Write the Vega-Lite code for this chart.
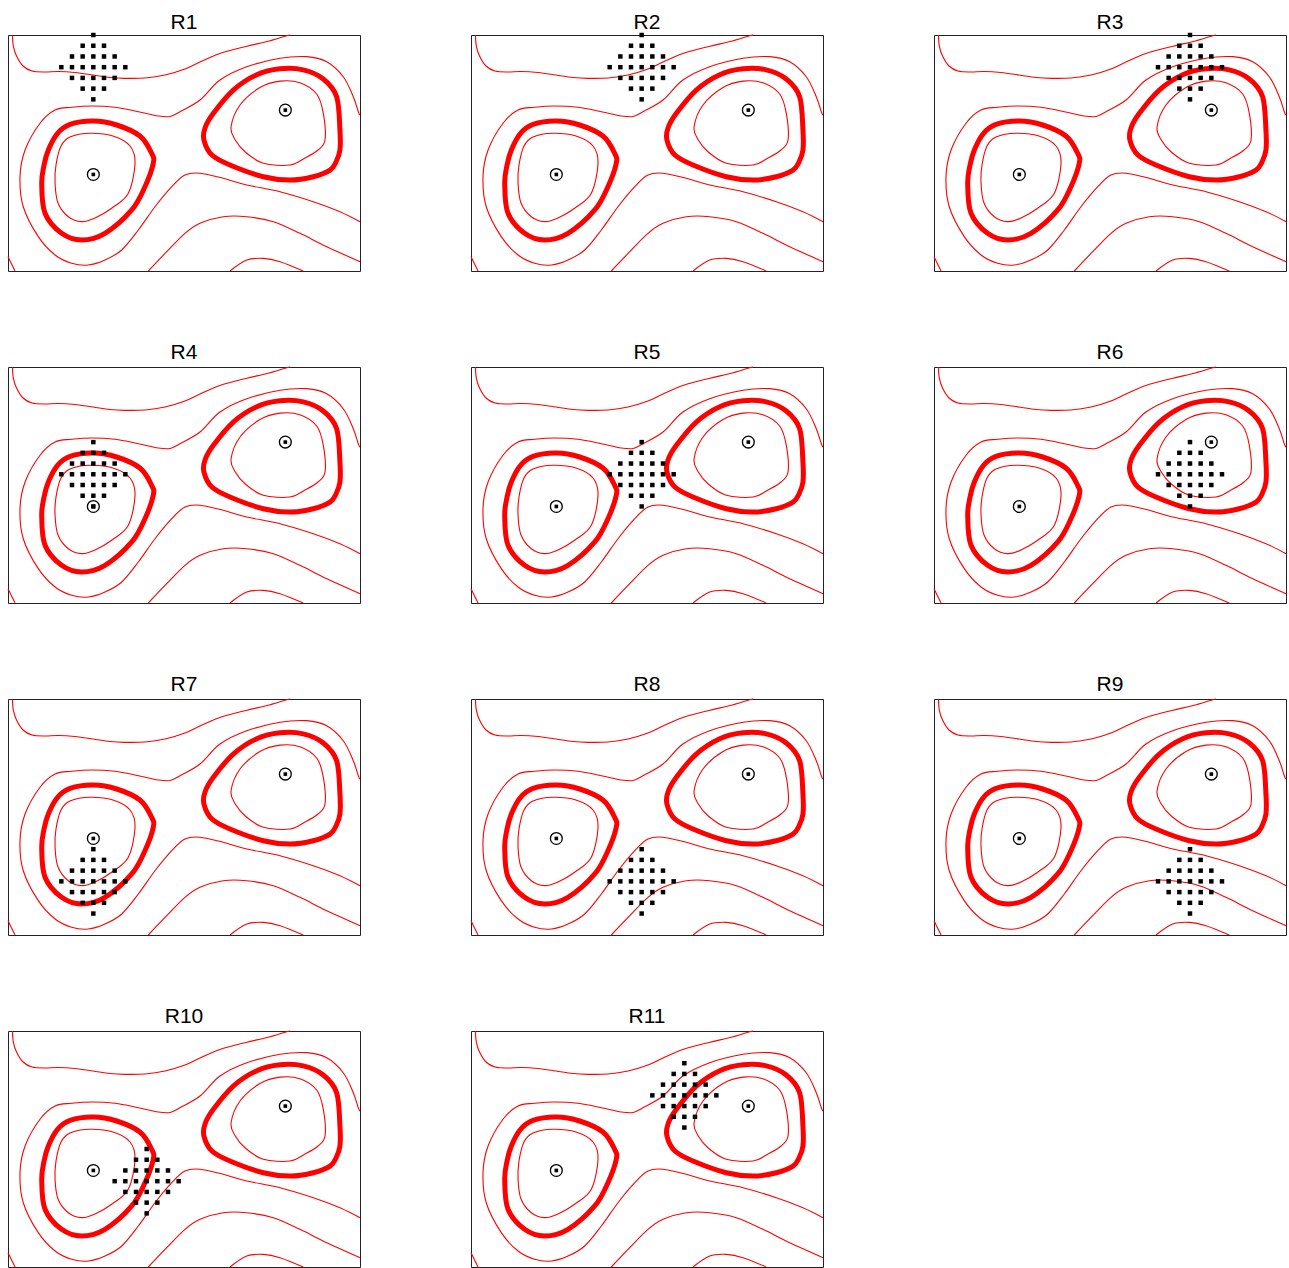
{
  "$schema": "https://vega.github.io/schema/vega-lite/v6.json",
  "background": "white",
  "padding": {"left": 5, "top": 11, "right": 0, "bottom": 0},
  "columns": 3,
  "bounds": "flush",
  "spacing": {"row": 96, "column": 111},
  "config": {
    "view": {"stroke": "#222", "strokeWidth": 1},
    "title": {"font": "Liberation Sans", "fontSize": 21, "fontWeight": "normal", "color": "#000", "offset": 1.5, "frame": "group"},
    "line": {"color": "#ff0000", "clip": true},
    "point": {"opacity": 1}
  },
  "datasets": {
    "contours": [
      {"line": "A", "seq": 0, "x": 0.42, "y": 22.0},
      {"line": "A", "seq": 1, "x": 0.50, "y": 20.97},
      {"line": "A", "seq": 2, "x": 0.80, "y": 20.04},
      {"line": "A", "seq": 3, "x": 1.41, "y": 19.11},
      {"line": "A", "seq": 4, "x": 2.25, "y": 18.64},
      {"line": "A", "seq": 5, "x": 3.47, "y": 18.55},
      {"line": "A", "seq": 6, "x": 4.69, "y": 18.6},
      {"line": "A", "seq": 7, "x": 6.28, "y": 18.5},
      {"line": "A", "seq": 8, "x": 7.97, "y": 18.27},
      {"line": "A", "seq": 9, "x": 9.56, "y": 18.04},
      {"line": "A", "seq": 10, "x": 10.97, "y": 17.96},
      {"line": "A", "seq": 11, "x": 12.84, "y": 17.99},
      {"line": "A", "seq": 12, "x": 14.72, "y": 18.27},
      {"line": "A", "seq": 13, "x": 16.59, "y": 18.83},
      {"line": "A", "seq": 14, "x": 18.0, "y": 19.48},
      {"line": "A", "seq": 15, "x": 19.87, "y": 20.28},
      {"line": "A", "seq": 16, "x": 22.31, "y": 20.93},
      {"line": "A", "seq": 17, "x": 24.28, "y": 21.39},
      {"line": "A", "seq": 18, "x": 25.9, "y": 21.86},
      {"line": "A", "seq": 19, "x": 26.44, "y": 22.0},

      {"line": "B", "seq": 0, "x": 33.0, "y": 14.54},
      {"line": "B", "seq": 1, "x": 32.84, "y": 14.85},
      {"line": "B", "seq": 2, "x": 32.37, "y": 16.25},
      {"line": "B", "seq": 3, "x": 31.43, "y": 18.11},
      {"line": "B", "seq": 4, "x": 29.88, "y": 19.51},
      {"line": "B", "seq": 5, "x": 28.0, "y": 19.98},
      {"line": "B", "seq": 6, "x": 25.5, "y": 19.83},
      {"line": "B", "seq": 7, "x": 22.38, "y": 19.04},
      {"line": "B", "seq": 8, "x": 19.87, "y": 17.8},
      {"line": "B", "seq": 9, "x": 18.0, "y": 15.94},
      {"line": "B", "seq": 10, "x": 16.12, "y": 14.85},
      {"line": "B", "seq": 11, "x": 15.2, "y": 14.4},
      {"line": "B", "seq": 12, "x": 14.09, "y": 14.45},
      {"line": "B", "seq": 13, "x": 12.22, "y": 14.85},
      {"line": "B", "seq": 14, "x": 10.03, "y": 15.26},
      {"line": "B", "seq": 15, "x": 7.85, "y": 15.38},
      {"line": "B", "seq": 16, "x": 5.97, "y": 15.26},
      {"line": "B", "seq": 17, "x": 4.41, "y": 15.01},
      {"line": "B", "seq": 18, "x": 3.0, "y": 13.77},
      {"line": "B", "seq": 19, "x": 1.6, "y": 11.28},
      {"line": "B", "seq": 20, "x": 1.125, "y": 8.79},
      {"line": "B", "seq": 21, "x": 1.43, "y": 5.99},
      {"line": "B", "seq": 22, "x": 2.84, "y": 3.2},
      {"line": "B", "seq": 23, "x": 4.41, "y": 1.49},
      {"line": "B", "seq": 24, "x": 5.97, "y": 0.72},
      {"line": "B", "seq": 25, "x": 7.53, "y": 0.56},
      {"line": "B", "seq": 26, "x": 9.09, "y": 1.02},
      {"line": "B", "seq": 27, "x": 10.66, "y": 1.96},
      {"line": "B", "seq": 28, "x": 12.22, "y": 3.82},
      {"line": "B", "seq": 29, "x": 13.78, "y": 5.99},
      {"line": "B", "seq": 30, "x": 15.35, "y": 7.86},
      {"line": "B", "seq": 31, "x": 16.59, "y": 8.95},
      {"line": "B", "seq": 32, "x": 18.0, "y": 9.11},
      {"line": "B", "seq": 33, "x": 20.18, "y": 8.64},
      {"line": "B", "seq": 34, "x": 22.38, "y": 8.02},
      {"line": "B", "seq": 35, "x": 25.5, "y": 7.39},
      {"line": "B", "seq": 36, "x": 28.62, "y": 6.46},
      {"line": "B", "seq": 37, "x": 31.12, "y": 5.53},
      {"line": "B", "seq": 38, "x": 33.0, "y": 4.6},

      {"line": "C", "seq": 0, "x": 13.15, "y": 0.0},
      {"line": "C", "seq": 1, "x": 14.88, "y": 1.8},
      {"line": "C", "seq": 2, "x": 16.59, "y": 3.51},
      {"line": "C", "seq": 3, "x": 18.0, "y": 4.45},
      {"line": "C", "seq": 4, "x": 20.18, "y": 5.06},
      {"line": "C", "seq": 5, "x": 22.38, "y": 5.06},
      {"line": "C", "seq": 6, "x": 24.87, "y": 4.6},
      {"line": "C", "seq": 7, "x": 27.37, "y": 3.51},
      {"line": "C", "seq": 8, "x": 29.88, "y": 2.26},
      {"line": "C", "seq": 9, "x": 33.0, "y": 0.87},

      {"line": "D", "seq": 0, "x": 20.81, "y": 0.0},
      {"line": "D", "seq": 1, "x": 22.38, "y": 1.02},
      {"line": "D", "seq": 2, "x": 23.93, "y": 1.18},
      {"line": "D", "seq": 3, "x": 25.5, "y": 0.87},
      {"line": "D", "seq": 4, "x": 27.68, "y": 0.0},

      {"line": "E", "seq": 0, "x": 0.0, "y": 1.33},
      {"line": "E", "seq": 1, "x": 0.66, "y": 0.0},

      {"line": "L1", "seq": 0, "x": 4.97, "y": 11.65},
      {"line": "L1", "seq": 1, "x": 5.81, "y": 12.49},
      {"line": "L1", "seq": 2, "x": 7.69, "y": 12.84},
      {"line": "L1", "seq": 3, "x": 9.84, "y": 12.58},
      {"line": "L1", "seq": 4, "x": 11.44, "y": 11.65},
      {"line": "L1", "seq": 5, "x": 11.91, "y": 10.04},
      {"line": "L1", "seq": 6, "x": 11.28, "y": 7.24},
      {"line": "L1", "seq": 7, "x": 9.75, "y": 5.87},
      {"line": "L1", "seq": 8, "x": 8.16, "y": 4.94},
      {"line": "L1", "seq": 9, "x": 6.91, "y": 4.6},
      {"line": "L1", "seq": 10, "x": 5.65, "y": 5.06},
      {"line": "L1", "seq": 11, "x": 4.69, "y": 6.34},
      {"line": "L1", "seq": 12, "x": 4.41, "y": 8.18},
      {"line": "L1", "seq": 13, "x": 4.5, "y": 9.88},

      {"line": "L2", "seq": 0, "x": 7.97, "y": 13.98},
      {"line": "L2", "seq": 1, "x": 10.19, "y": 13.61},
      {"line": "L2", "seq": 2, "x": 12.37, "y": 12.58},
      {"line": "L2", "seq": 3, "x": 13.47, "y": 10.97},
      {"line": "L2", "seq": 4, "x": 13.62, "y": 10.04},
      {"line": "L2", "seq": 5, "x": 12.84, "y": 7.86},
      {"line": "L2", "seq": 6, "x": 11.6, "y": 5.69},
      {"line": "L2", "seq": 7, "x": 9.09, "y": 3.51},
      {"line": "L2", "seq": 8, "x": 6.91, "y": 2.89},
      {"line": "L2", "seq": 9, "x": 5.03, "y": 3.51},
      {"line": "L2", "seq": 10, "x": 3.47, "y": 5.38},
      {"line": "L2", "seq": 11, "x": 3.16, "y": 8.18},
      {"line": "L2", "seq": 12, "x": 3.38, "y": 9.88},
      {"line": "L2", "seq": 13, "x": 3.78, "y": 11.28},
      {"line": "L2", "seq": 14, "x": 4.59, "y": 12.77},
      {"line": "L2", "seq": 15, "x": 5.81, "y": 13.66},

      {"line": "R1", "seq": 0, "x": 20.91, "y": 13.42},
      {"line": "R1", "seq": 1, "x": 21.75, "y": 15.47},
      {"line": "R1", "seq": 2, "x": 23.62, "y": 17.1},
      {"line": "R1", "seq": 3, "x": 25.5, "y": 17.7},
      {"line": "R1", "seq": 4, "x": 27.37, "y": 17.55},
      {"line": "R1", "seq": 5, "x": 28.94, "y": 16.5},
      {"line": "R1", "seq": 6, "x": 29.56, "y": 14.7},
      {"line": "R1", "seq": 7, "x": 29.72, "y": 12.21},
      {"line": "R1", "seq": 8, "x": 29.06, "y": 11.28},
      {"line": "R1", "seq": 9, "x": 27.84, "y": 10.53},
      {"line": "R1", "seq": 10, "x": 26.44, "y": 9.88},
      {"line": "R1", "seq": 11, "x": 23.93, "y": 10.04},
      {"line": "R1", "seq": 12, "x": 22.24, "y": 11.09},
      {"line": "R1", "seq": 13, "x": 21.31, "y": 12.21},

      {"line": "R2", "seq": 0, "x": 18.37, "y": 12.21},
      {"line": "R2", "seq": 1, "x": 18.47, "y": 13.33},
      {"line": "R2", "seq": 2, "x": 19.25, "y": 14.7},
      {"line": "R2", "seq": 3, "x": 21.12, "y": 16.87},
      {"line": "R2", "seq": 4, "x": 23.32, "y": 18.3},
      {"line": "R2", "seq": 5, "x": 25.5, "y": 18.85},
      {"line": "R2", "seq": 6, "x": 27.68, "y": 18.75},
      {"line": "R2", "seq": 7, "x": 29.56, "y": 17.9},
      {"line": "R2", "seq": 8, "x": 30.81, "y": 16.25},
      {"line": "R2", "seq": 9, "x": 31.12, "y": 13.14},
      {"line": "R2", "seq": 10, "x": 31.12, "y": 11.28},
      {"line": "R2", "seq": 11, "x": 30.75, "y": 10.16},
      {"line": "R2", "seq": 12, "x": 30.19, "y": 9.41},
      {"line": "R2", "seq": 13, "x": 28.62, "y": 8.79},
      {"line": "R2", "seq": 14, "x": 26.44, "y": 8.48},
      {"line": "R2", "seq": 15, "x": 23.93, "y": 8.79},
      {"line": "R2", "seq": 16, "x": 20.81, "y": 9.88},
      {"line": "R2", "seq": 17, "x": 19.12, "y": 10.81}
    ],
    "minima": [
      {"x": 8, "y": 9},
      {"x": 26, "y": 15}
    ],
    "samples": [
      {"panel": "R1", "x": 8, "y": 22},
      {"panel": "R1", "x": 7, "y": 21}, {"panel": "R1", "x": 8, "y": 21}, {"panel": "R1", "x": 9, "y": 21},
      {"panel": "R1", "x": 6, "y": 20}, {"panel": "R1", "x": 7, "y": 20}, {"panel": "R1", "x": 8, "y": 20}, {"panel": "R1", "x": 9, "y": 20}, {"panel": "R1", "x": 10, "y": 20},
      {"panel": "R1", "x": 5, "y": 19}, {"panel": "R1", "x": 6, "y": 19}, {"panel": "R1", "x": 7, "y": 19}, {"panel": "R1", "x": 8, "y": 19}, {"panel": "R1", "x": 9, "y": 19}, {"panel": "R1", "x": 10, "y": 19}, {"panel": "R1", "x": 11, "y": 19},
      {"panel": "R1", "x": 6, "y": 18}, {"panel": "R1", "x": 7, "y": 18}, {"panel": "R1", "x": 8, "y": 18}, {"panel": "R1", "x": 9, "y": 18}, {"panel": "R1", "x": 10, "y": 18},
      {"panel": "R1", "x": 7, "y": 17}, {"panel": "R1", "x": 8, "y": 17}, {"panel": "R1", "x": 9, "y": 17},
      {"panel": "R1", "x": 8, "y": 16},

      {"panel": "R2", "x": 16, "y": 22},
      {"panel": "R2", "x": 15, "y": 21}, {"panel": "R2", "x": 16, "y": 21}, {"panel": "R2", "x": 17, "y": 21},
      {"panel": "R2", "x": 14, "y": 20}, {"panel": "R2", "x": 15, "y": 20}, {"panel": "R2", "x": 16, "y": 20}, {"panel": "R2", "x": 17, "y": 20}, {"panel": "R2", "x": 18, "y": 20},
      {"panel": "R2", "x": 13, "y": 19}, {"panel": "R2", "x": 14, "y": 19}, {"panel": "R2", "x": 15, "y": 19}, {"panel": "R2", "x": 16, "y": 19}, {"panel": "R2", "x": 17, "y": 19}, {"panel": "R2", "x": 18, "y": 19}, {"panel": "R2", "x": 19, "y": 19},
      {"panel": "R2", "x": 14, "y": 18}, {"panel": "R2", "x": 15, "y": 18}, {"panel": "R2", "x": 16, "y": 18}, {"panel": "R2", "x": 17, "y": 18}, {"panel": "R2", "x": 18, "y": 18},
      {"panel": "R2", "x": 15, "y": 17}, {"panel": "R2", "x": 16, "y": 17}, {"panel": "R2", "x": 17, "y": 17},
      {"panel": "R2", "x": 16, "y": 16},

      {"panel": "R3", "x": 24, "y": 22},
      {"panel": "R3", "x": 23, "y": 21}, {"panel": "R3", "x": 24, "y": 21}, {"panel": "R3", "x": 25, "y": 21},
      {"panel": "R3", "x": 22, "y": 20}, {"panel": "R3", "x": 23, "y": 20}, {"panel": "R3", "x": 24, "y": 20}, {"panel": "R3", "x": 25, "y": 20}, {"panel": "R3", "x": 26, "y": 20},
      {"panel": "R3", "x": 21, "y": 19}, {"panel": "R3", "x": 22, "y": 19}, {"panel": "R3", "x": 23, "y": 19}, {"panel": "R3", "x": 24, "y": 19}, {"panel": "R3", "x": 25, "y": 19}, {"panel": "R3", "x": 26, "y": 19}, {"panel": "R3", "x": 27, "y": 19},
      {"panel": "R3", "x": 22, "y": 18}, {"panel": "R3", "x": 23, "y": 18}, {"panel": "R3", "x": 24, "y": 18}, {"panel": "R3", "x": 25, "y": 18}, {"panel": "R3", "x": 26, "y": 18},
      {"panel": "R3", "x": 23, "y": 17}, {"panel": "R3", "x": 24, "y": 17}, {"panel": "R3", "x": 25, "y": 17},
      {"panel": "R3", "x": 24, "y": 16},

      {"panel": "R4", "x": 8, "y": 15},
      {"panel": "R4", "x": 7, "y": 14}, {"panel": "R4", "x": 8, "y": 14}, {"panel": "R4", "x": 9, "y": 14},
      {"panel": "R4", "x": 6, "y": 13}, {"panel": "R4", "x": 7, "y": 13}, {"panel": "R4", "x": 8, "y": 13}, {"panel": "R4", "x": 9, "y": 13}, {"panel": "R4", "x": 10, "y": 13},
      {"panel": "R4", "x": 5, "y": 12}, {"panel": "R4", "x": 6, "y": 12}, {"panel": "R4", "x": 7, "y": 12}, {"panel": "R4", "x": 8, "y": 12}, {"panel": "R4", "x": 9, "y": 12}, {"panel": "R4", "x": 10, "y": 12}, {"panel": "R4", "x": 11, "y": 12},
      {"panel": "R4", "x": 6, "y": 11}, {"panel": "R4", "x": 7, "y": 11}, {"panel": "R4", "x": 8, "y": 11}, {"panel": "R4", "x": 9, "y": 11}, {"panel": "R4", "x": 10, "y": 11},
      {"panel": "R4", "x": 7, "y": 10}, {"panel": "R4", "x": 8, "y": 10}, {"panel": "R4", "x": 9, "y": 10},
      {"panel": "R4", "x": 8, "y": 9},

      {"panel": "R5", "x": 16, "y": 15},
      {"panel": "R5", "x": 15, "y": 14}, {"panel": "R5", "x": 16, "y": 14}, {"panel": "R5", "x": 17, "y": 14},
      {"panel": "R5", "x": 14, "y": 13}, {"panel": "R5", "x": 15, "y": 13}, {"panel": "R5", "x": 16, "y": 13}, {"panel": "R5", "x": 17, "y": 13}, {"panel": "R5", "x": 18, "y": 13},
      {"panel": "R5", "x": 13, "y": 12}, {"panel": "R5", "x": 14, "y": 12}, {"panel": "R5", "x": 15, "y": 12}, {"panel": "R5", "x": 16, "y": 12}, {"panel": "R5", "x": 17, "y": 12}, {"panel": "R5", "x": 18, "y": 12}, {"panel": "R5", "x": 19, "y": 12},
      {"panel": "R5", "x": 14, "y": 11}, {"panel": "R5", "x": 15, "y": 11}, {"panel": "R5", "x": 16, "y": 11}, {"panel": "R5", "x": 17, "y": 11}, {"panel": "R5", "x": 18, "y": 11},
      {"panel": "R5", "x": 15, "y": 10}, {"panel": "R5", "x": 16, "y": 10}, {"panel": "R5", "x": 17, "y": 10},
      {"panel": "R5", "x": 16, "y": 9},

      {"panel": "R6", "x": 24, "y": 15},
      {"panel": "R6", "x": 23, "y": 14}, {"panel": "R6", "x": 24, "y": 14}, {"panel": "R6", "x": 25, "y": 14},
      {"panel": "R6", "x": 22, "y": 13}, {"panel": "R6", "x": 23, "y": 13}, {"panel": "R6", "x": 24, "y": 13}, {"panel": "R6", "x": 25, "y": 13}, {"panel": "R6", "x": 26, "y": 13},
      {"panel": "R6", "x": 21, "y": 12}, {"panel": "R6", "x": 22, "y": 12}, {"panel": "R6", "x": 23, "y": 12}, {"panel": "R6", "x": 24, "y": 12}, {"panel": "R6", "x": 25, "y": 12}, {"panel": "R6", "x": 26, "y": 12}, {"panel": "R6", "x": 27, "y": 12},
      {"panel": "R6", "x": 22, "y": 11}, {"panel": "R6", "x": 23, "y": 11}, {"panel": "R6", "x": 24, "y": 11}, {"panel": "R6", "x": 25, "y": 11}, {"panel": "R6", "x": 26, "y": 11},
      {"panel": "R6", "x": 23, "y": 10}, {"panel": "R6", "x": 24, "y": 10}, {"panel": "R6", "x": 25, "y": 10},
      {"panel": "R6", "x": 24, "y": 9},

      {"panel": "R7", "x": 8, "y": 8},
      {"panel": "R7", "x": 7, "y": 7}, {"panel": "R7", "x": 8, "y": 7}, {"panel": "R7", "x": 9, "y": 7},
      {"panel": "R7", "x": 6, "y": 6}, {"panel": "R7", "x": 7, "y": 6}, {"panel": "R7", "x": 8, "y": 6}, {"panel": "R7", "x": 9, "y": 6}, {"panel": "R7", "x": 10, "y": 6},
      {"panel": "R7", "x": 5, "y": 5}, {"panel": "R7", "x": 6, "y": 5}, {"panel": "R7", "x": 7, "y": 5}, {"panel": "R7", "x": 8, "y": 5}, {"panel": "R7", "x": 9, "y": 5}, {"panel": "R7", "x": 10, "y": 5}, {"panel": "R7", "x": 11, "y": 5},
      {"panel": "R7", "x": 6, "y": 4}, {"panel": "R7", "x": 7, "y": 4}, {"panel": "R7", "x": 8, "y": 4}, {"panel": "R7", "x": 9, "y": 4}, {"panel": "R7", "x": 10, "y": 4},
      {"panel": "R7", "x": 7, "y": 3}, {"panel": "R7", "x": 8, "y": 3}, {"panel": "R7", "x": 9, "y": 3},
      {"panel": "R7", "x": 8, "y": 2},

      {"panel": "R8", "x": 16, "y": 8},
      {"panel": "R8", "x": 15, "y": 7}, {"panel": "R8", "x": 16, "y": 7}, {"panel": "R8", "x": 17, "y": 7},
      {"panel": "R8", "x": 14, "y": 6}, {"panel": "R8", "x": 15, "y": 6}, {"panel": "R8", "x": 16, "y": 6}, {"panel": "R8", "x": 17, "y": 6}, {"panel": "R8", "x": 18, "y": 6},
      {"panel": "R8", "x": 13, "y": 5}, {"panel": "R8", "x": 14, "y": 5}, {"panel": "R8", "x": 15, "y": 5}, {"panel": "R8", "x": 16, "y": 5}, {"panel": "R8", "x": 17, "y": 5}, {"panel": "R8", "x": 18, "y": 5}, {"panel": "R8", "x": 19, "y": 5},
      {"panel": "R8", "x": 14, "y": 4}, {"panel": "R8", "x": 15, "y": 4}, {"panel": "R8", "x": 16, "y": 4}, {"panel": "R8", "x": 17, "y": 4}, {"panel": "R8", "x": 18, "y": 4},
      {"panel": "R8", "x": 15, "y": 3}, {"panel": "R8", "x": 16, "y": 3}, {"panel": "R8", "x": 17, "y": 3},
      {"panel": "R8", "x": 16, "y": 2},

      {"panel": "R9", "x": 24, "y": 8},
      {"panel": "R9", "x": 23, "y": 7}, {"panel": "R9", "x": 24, "y": 7}, {"panel": "R9", "x": 25, "y": 7},
      {"panel": "R9", "x": 22, "y": 6}, {"panel": "R9", "x": 23, "y": 6}, {"panel": "R9", "x": 24, "y": 6}, {"panel": "R9", "x": 25, "y": 6}, {"panel": "R9", "x": 26, "y": 6},
      {"panel": "R9", "x": 21, "y": 5}, {"panel": "R9", "x": 22, "y": 5}, {"panel": "R9", "x": 23, "y": 5}, {"panel": "R9", "x": 24, "y": 5}, {"panel": "R9", "x": 25, "y": 5}, {"panel": "R9", "x": 26, "y": 5}, {"panel": "R9", "x": 27, "y": 5},
      {"panel": "R9", "x": 22, "y": 4}, {"panel": "R9", "x": 23, "y": 4}, {"panel": "R9", "x": 24, "y": 4}, {"panel": "R9", "x": 25, "y": 4}, {"panel": "R9", "x": 26, "y": 4},
      {"panel": "R9", "x": 23, "y": 3}, {"panel": "R9", "x": 24, "y": 3}, {"panel": "R9", "x": 25, "y": 3},
      {"panel": "R9", "x": 24, "y": 2},

      {"panel": "R10", "x": 13, "y": 11},
      {"panel": "R10", "x": 12, "y": 10}, {"panel": "R10", "x": 13, "y": 10}, {"panel": "R10", "x": 14, "y": 10},
      {"panel": "R10", "x": 11, "y": 9}, {"panel": "R10", "x": 12, "y": 9}, {"panel": "R10", "x": 13, "y": 9}, {"panel": "R10", "x": 14, "y": 9}, {"panel": "R10", "x": 15, "y": 9},
      {"panel": "R10", "x": 10, "y": 8}, {"panel": "R10", "x": 11, "y": 8}, {"panel": "R10", "x": 12, "y": 8}, {"panel": "R10", "x": 13, "y": 8}, {"panel": "R10", "x": 14, "y": 8}, {"panel": "R10", "x": 15, "y": 8}, {"panel": "R10", "x": 16, "y": 8},
      {"panel": "R10", "x": 11, "y": 7}, {"panel": "R10", "x": 12, "y": 7}, {"panel": "R10", "x": 13, "y": 7}, {"panel": "R10", "x": 14, "y": 7}, {"panel": "R10", "x": 15, "y": 7},
      {"panel": "R10", "x": 12, "y": 6}, {"panel": "R10", "x": 13, "y": 6}, {"panel": "R10", "x": 14, "y": 6},
      {"panel": "R10", "x": 13, "y": 5},

      {"panel": "R11", "x": 20, "y": 19},
      {"panel": "R11", "x": 19, "y": 18}, {"panel": "R11", "x": 20, "y": 18}, {"panel": "R11", "x": 21, "y": 18},
      {"panel": "R11", "x": 18, "y": 17}, {"panel": "R11", "x": 19, "y": 17}, {"panel": "R11", "x": 20, "y": 17}, {"panel": "R11", "x": 21, "y": 17}, {"panel": "R11", "x": 22, "y": 17},
      {"panel": "R11", "x": 17, "y": 16}, {"panel": "R11", "x": 18, "y": 16}, {"panel": "R11", "x": 19, "y": 16}, {"panel": "R11", "x": 20, "y": 16}, {"panel": "R11", "x": 21, "y": 16}, {"panel": "R11", "x": 22, "y": 16}, {"panel": "R11", "x": 23, "y": 16},
      {"panel": "R11", "x": 18, "y": 15}, {"panel": "R11", "x": 19, "y": 15}, {"panel": "R11", "x": 20, "y": 15}, {"panel": "R11", "x": 21, "y": 15}, {"panel": "R11", "x": 22, "y": 15},
      {"panel": "R11", "x": 19, "y": 14}, {"panel": "R11", "x": 20, "y": 14}, {"panel": "R11", "x": 21, "y": 14},
      {"panel": "R11", "x": 20, "y": 13}
    ]
  },
  "concat": [
    {"title": {"text": "R1", "offset": -0.5}, "width": 352, "height": 236,
     "encoding": {"x": {"field": "x", "type": "quantitative", "scale": {"domain": [0, 33], "nice": false, "zero": false}, "axis": null},
                  "y": {"field": "y", "type": "quantitative", "scale": {"domain": [0, 22], "nice": false, "zero": false}, "axis": null}},
     "layer": [
       {"data": {"name": "contours"}, "transform": [{"filter": {"field": "line", "oneOf": ["A", "B", "C", "D", "E"]}}], "mark": {"type": "line", "interpolate": "cardinal", "strokeWidth": 1.1}, "encoding": {"detail": {"field": "line"}, "order": {"field": "seq", "type": "quantitative"}}},
       {"data": {"name": "contours"}, "transform": [{"filter": {"field": "line", "oneOf": ["L1", "R1"]}}], "mark": {"type": "line", "interpolate": "cardinal-closed", "strokeWidth": 1.1}, "encoding": {"detail": {"field": "line"}, "order": {"field": "seq", "type": "quantitative"}}},
       {"data": {"name": "contours"}, "transform": [{"filter": {"field": "line", "oneOf": ["L2", "R2"]}}], "mark": {"type": "line", "interpolate": "cardinal-closed", "strokeWidth": 5}, "encoding": {"detail": {"field": "line"}, "order": {"field": "seq", "type": "quantitative"}}},
       {"data": {"name": "minima"}, "mark": {"type": "point", "shape": "circle", "size": 140, "filled": false, "color": "#000", "strokeWidth": 1.3}},
       {"data": {"name": "minima"}, "mark": {"type": "point", "shape": "square", "size": 13, "filled": true, "color": "#000"}},
       {"data": {"name": "samples"}, "transform": [{"filter": "datum.panel === 'R1'"}], "mark": {"type": "point", "shape": "square", "size": 20, "filled": true, "color": "#000"}}
     ]},
    {"title": {"text": "R2", "offset": -0.5}, "width": 352, "height": 236,
     "encoding": {"x": {"field": "x", "type": "quantitative", "scale": {"domain": [0, 33], "nice": false, "zero": false}, "axis": null},
                  "y": {"field": "y", "type": "quantitative", "scale": {"domain": [0, 22], "nice": false, "zero": false}, "axis": null}},
     "layer": [
       {"data": {"name": "contours"}, "transform": [{"filter": {"field": "line", "oneOf": ["A", "B", "C", "D", "E"]}}], "mark": {"type": "line", "interpolate": "cardinal", "strokeWidth": 1.1}, "encoding": {"detail": {"field": "line"}, "order": {"field": "seq", "type": "quantitative"}}},
       {"data": {"name": "contours"}, "transform": [{"filter": {"field": "line", "oneOf": ["L1", "R1"]}}], "mark": {"type": "line", "interpolate": "cardinal-closed", "strokeWidth": 1.1}, "encoding": {"detail": {"field": "line"}, "order": {"field": "seq", "type": "quantitative"}}},
       {"data": {"name": "contours"}, "transform": [{"filter": {"field": "line", "oneOf": ["L2", "R2"]}}], "mark": {"type": "line", "interpolate": "cardinal-closed", "strokeWidth": 5}, "encoding": {"detail": {"field": "line"}, "order": {"field": "seq", "type": "quantitative"}}},
       {"data": {"name": "minima"}, "mark": {"type": "point", "shape": "circle", "size": 140, "filled": false, "color": "#000", "strokeWidth": 1.3}},
       {"data": {"name": "minima"}, "mark": {"type": "point", "shape": "square", "size": 13, "filled": true, "color": "#000"}},
       {"data": {"name": "samples"}, "transform": [{"filter": "datum.panel === 'R2'"}], "mark": {"type": "point", "shape": "square", "size": 20, "filled": true, "color": "#000"}}
     ]},
    {"title": {"text": "R3", "offset": -0.5}, "width": 352, "height": 236,
     "encoding": {"x": {"field": "x", "type": "quantitative", "scale": {"domain": [0, 33], "nice": false, "zero": false}, "axis": null},
                  "y": {"field": "y", "type": "quantitative", "scale": {"domain": [0, 22], "nice": false, "zero": false}, "axis": null}},
     "layer": [
       {"data": {"name": "contours"}, "transform": [{"filter": {"field": "line", "oneOf": ["A", "B", "C", "D", "E"]}}], "mark": {"type": "line", "interpolate": "cardinal", "strokeWidth": 1.1}, "encoding": {"detail": {"field": "line"}, "order": {"field": "seq", "type": "quantitative"}}},
       {"data": {"name": "contours"}, "transform": [{"filter": {"field": "line", "oneOf": ["L1", "R1"]}}], "mark": {"type": "line", "interpolate": "cardinal-closed", "strokeWidth": 1.1}, "encoding": {"detail": {"field": "line"}, "order": {"field": "seq", "type": "quantitative"}}},
       {"data": {"name": "contours"}, "transform": [{"filter": {"field": "line", "oneOf": ["L2", "R2"]}}], "mark": {"type": "line", "interpolate": "cardinal-closed", "strokeWidth": 5}, "encoding": {"detail": {"field": "line"}, "order": {"field": "seq", "type": "quantitative"}}},
       {"data": {"name": "minima"}, "mark": {"type": "point", "shape": "circle", "size": 140, "filled": false, "color": "#000", "strokeWidth": 1.3}},
       {"data": {"name": "minima"}, "mark": {"type": "point", "shape": "square", "size": 13, "filled": true, "color": "#000"}},
       {"data": {"name": "samples"}, "transform": [{"filter": "datum.panel === 'R3'"}], "mark": {"type": "point", "shape": "square", "size": 20, "filled": true, "color": "#000"}}
     ]},
    {"title": "R4", "width": 352, "height": 236,
     "encoding": {"x": {"field": "x", "type": "quantitative", "scale": {"domain": [0, 33], "nice": false, "zero": false}, "axis": null},
                  "y": {"field": "y", "type": "quantitative", "scale": {"domain": [0, 22], "nice": false, "zero": false}, "axis": null}},
     "layer": [
       {"data": {"name": "contours"}, "transform": [{"filter": {"field": "line", "oneOf": ["A", "B", "C", "D", "E"]}}], "mark": {"type": "line", "interpolate": "cardinal", "strokeWidth": 1.1}, "encoding": {"detail": {"field": "line"}, "order": {"field": "seq", "type": "quantitative"}}},
       {"data": {"name": "contours"}, "transform": [{"filter": {"field": "line", "oneOf": ["L1", "R1"]}}], "mark": {"type": "line", "interpolate": "cardinal-closed", "strokeWidth": 1.1}, "encoding": {"detail": {"field": "line"}, "order": {"field": "seq", "type": "quantitative"}}},
       {"data": {"name": "contours"}, "transform": [{"filter": {"field": "line", "oneOf": ["L2", "R2"]}}], "mark": {"type": "line", "interpolate": "cardinal-closed", "strokeWidth": 5}, "encoding": {"detail": {"field": "line"}, "order": {"field": "seq", "type": "quantitative"}}},
       {"data": {"name": "minima"}, "mark": {"type": "point", "shape": "circle", "size": 140, "filled": false, "color": "#000", "strokeWidth": 1.3}},
       {"data": {"name": "minima"}, "mark": {"type": "point", "shape": "square", "size": 13, "filled": true, "color": "#000"}},
       {"data": {"name": "samples"}, "transform": [{"filter": "datum.panel === 'R4'"}], "mark": {"type": "point", "shape": "square", "size": 20, "filled": true, "color": "#000"}}
     ]},
    {"title": "R5", "width": 352, "height": 236,
     "encoding": {"x": {"field": "x", "type": "quantitative", "scale": {"domain": [0, 33], "nice": false, "zero": false}, "axis": null},
                  "y": {"field": "y", "type": "quantitative", "scale": {"domain": [0, 22], "nice": false, "zero": false}, "axis": null}},
     "layer": [
       {"data": {"name": "contours"}, "transform": [{"filter": {"field": "line", "oneOf": ["A", "B", "C", "D", "E"]}}], "mark": {"type": "line", "interpolate": "cardinal", "strokeWidth": 1.1}, "encoding": {"detail": {"field": "line"}, "order": {"field": "seq", "type": "quantitative"}}},
       {"data": {"name": "contours"}, "transform": [{"filter": {"field": "line", "oneOf": ["L1", "R1"]}}], "mark": {"type": "line", "interpolate": "cardinal-closed", "strokeWidth": 1.1}, "encoding": {"detail": {"field": "line"}, "order": {"field": "seq", "type": "quantitative"}}},
       {"data": {"name": "contours"}, "transform": [{"filter": {"field": "line", "oneOf": ["L2", "R2"]}}], "mark": {"type": "line", "interpolate": "cardinal-closed", "strokeWidth": 5}, "encoding": {"detail": {"field": "line"}, "order": {"field": "seq", "type": "quantitative"}}},
       {"data": {"name": "minima"}, "mark": {"type": "point", "shape": "circle", "size": 140, "filled": false, "color": "#000", "strokeWidth": 1.3}},
       {"data": {"name": "minima"}, "mark": {"type": "point", "shape": "square", "size": 13, "filled": true, "color": "#000"}},
       {"data": {"name": "samples"}, "transform": [{"filter": "datum.panel === 'R5'"}], "mark": {"type": "point", "shape": "square", "size": 20, "filled": true, "color": "#000"}}
     ]},
    {"title": "R6", "width": 352, "height": 236,
     "encoding": {"x": {"field": "x", "type": "quantitative", "scale": {"domain": [0, 33], "nice": false, "zero": false}, "axis": null},
                  "y": {"field": "y", "type": "quantitative", "scale": {"domain": [0, 22], "nice": false, "zero": false}, "axis": null}},
     "layer": [
       {"data": {"name": "contours"}, "transform": [{"filter": {"field": "line", "oneOf": ["A", "B", "C", "D", "E"]}}], "mark": {"type": "line", "interpolate": "cardinal", "strokeWidth": 1.1}, "encoding": {"detail": {"field": "line"}, "order": {"field": "seq", "type": "quantitative"}}},
       {"data": {"name": "contours"}, "transform": [{"filter": {"field": "line", "oneOf": ["L1", "R1"]}}], "mark": {"type": "line", "interpolate": "cardinal-closed", "strokeWidth": 1.1}, "encoding": {"detail": {"field": "line"}, "order": {"field": "seq", "type": "quantitative"}}},
       {"data": {"name": "contours"}, "transform": [{"filter": {"field": "line", "oneOf": ["L2", "R2"]}}], "mark": {"type": "line", "interpolate": "cardinal-closed", "strokeWidth": 5}, "encoding": {"detail": {"field": "line"}, "order": {"field": "seq", "type": "quantitative"}}},
       {"data": {"name": "minima"}, "mark": {"type": "point", "shape": "circle", "size": 140, "filled": false, "color": "#000", "strokeWidth": 1.3}},
       {"data": {"name": "minima"}, "mark": {"type": "point", "shape": "square", "size": 13, "filled": true, "color": "#000"}},
       {"data": {"name": "samples"}, "transform": [{"filter": "datum.panel === 'R6'"}], "mark": {"type": "point", "shape": "square", "size": 20, "filled": true, "color": "#000"}}
     ]},
    {"title": "R7", "width": 352, "height": 236,
     "encoding": {"x": {"field": "x", "type": "quantitative", "scale": {"domain": [0, 33], "nice": false, "zero": false}, "axis": null},
                  "y": {"field": "y", "type": "quantitative", "scale": {"domain": [0, 22], "nice": false, "zero": false}, "axis": null}},
     "layer": [
       {"data": {"name": "contours"}, "transform": [{"filter": {"field": "line", "oneOf": ["A", "B", "C", "D", "E"]}}], "mark": {"type": "line", "interpolate": "cardinal", "strokeWidth": 1.1}, "encoding": {"detail": {"field": "line"}, "order": {"field": "seq", "type": "quantitative"}}},
       {"data": {"name": "contours"}, "transform": [{"filter": {"field": "line", "oneOf": ["L1", "R1"]}}], "mark": {"type": "line", "interpolate": "cardinal-closed", "strokeWidth": 1.1}, "encoding": {"detail": {"field": "line"}, "order": {"field": "seq", "type": "quantitative"}}},
       {"data": {"name": "contours"}, "transform": [{"filter": {"field": "line", "oneOf": ["L2", "R2"]}}], "mark": {"type": "line", "interpolate": "cardinal-closed", "strokeWidth": 5}, "encoding": {"detail": {"field": "line"}, "order": {"field": "seq", "type": "quantitative"}}},
       {"data": {"name": "minima"}, "mark": {"type": "point", "shape": "circle", "size": 140, "filled": false, "color": "#000", "strokeWidth": 1.3}},
       {"data": {"name": "minima"}, "mark": {"type": "point", "shape": "square", "size": 13, "filled": true, "color": "#000"}},
       {"data": {"name": "samples"}, "transform": [{"filter": "datum.panel === 'R7'"}], "mark": {"type": "point", "shape": "square", "size": 20, "filled": true, "color": "#000"}}
     ]},
    {"title": "R8", "width": 352, "height": 236,
     "encoding": {"x": {"field": "x", "type": "quantitative", "scale": {"domain": [0, 33], "nice": false, "zero": false}, "axis": null},
                  "y": {"field": "y", "type": "quantitative", "scale": {"domain": [0, 22], "nice": false, "zero": false}, "axis": null}},
     "layer": [
       {"data": {"name": "contours"}, "transform": [{"filter": {"field": "line", "oneOf": ["A", "B", "C", "D", "E"]}}], "mark": {"type": "line", "interpolate": "cardinal", "strokeWidth": 1.1}, "encoding": {"detail": {"field": "line"}, "order": {"field": "seq", "type": "quantitative"}}},
       {"data": {"name": "contours"}, "transform": [{"filter": {"field": "line", "oneOf": ["L1", "R1"]}}], "mark": {"type": "line", "interpolate": "cardinal-closed", "strokeWidth": 1.1}, "encoding": {"detail": {"field": "line"}, "order": {"field": "seq", "type": "quantitative"}}},
       {"data": {"name": "contours"}, "transform": [{"filter": {"field": "line", "oneOf": ["L2", "R2"]}}], "mark": {"type": "line", "interpolate": "cardinal-closed", "strokeWidth": 5}, "encoding": {"detail": {"field": "line"}, "order": {"field": "seq", "type": "quantitative"}}},
       {"data": {"name": "minima"}, "mark": {"type": "point", "shape": "circle", "size": 140, "filled": false, "color": "#000", "strokeWidth": 1.3}},
       {"data": {"name": "minima"}, "mark": {"type": "point", "shape": "square", "size": 13, "filled": true, "color": "#000"}},
       {"data": {"name": "samples"}, "transform": [{"filter": "datum.panel === 'R8'"}], "mark": {"type": "point", "shape": "square", "size": 20, "filled": true, "color": "#000"}}
     ]},
    {"title": "R9", "width": 352, "height": 236,
     "encoding": {"x": {"field": "x", "type": "quantitative", "scale": {"domain": [0, 33], "nice": false, "zero": false}, "axis": null},
                  "y": {"field": "y", "type": "quantitative", "scale": {"domain": [0, 22], "nice": false, "zero": false}, "axis": null}},
     "layer": [
       {"data": {"name": "contours"}, "transform": [{"filter": {"field": "line", "oneOf": ["A", "B", "C", "D", "E"]}}], "mark": {"type": "line", "interpolate": "cardinal", "strokeWidth": 1.1}, "encoding": {"detail": {"field": "line"}, "order": {"field": "seq", "type": "quantitative"}}},
       {"data": {"name": "contours"}, "transform": [{"filter": {"field": "line", "oneOf": ["L1", "R1"]}}], "mark": {"type": "line", "interpolate": "cardinal-closed", "strokeWidth": 1.1}, "encoding": {"detail": {"field": "line"}, "order": {"field": "seq", "type": "quantitative"}}},
       {"data": {"name": "contours"}, "transform": [{"filter": {"field": "line", "oneOf": ["L2", "R2"]}}], "mark": {"type": "line", "interpolate": "cardinal-closed", "strokeWidth": 5}, "encoding": {"detail": {"field": "line"}, "order": {"field": "seq", "type": "quantitative"}}},
       {"data": {"name": "minima"}, "mark": {"type": "point", "shape": "circle", "size": 140, "filled": false, "color": "#000", "strokeWidth": 1.3}},
       {"data": {"name": "minima"}, "mark": {"type": "point", "shape": "square", "size": 13, "filled": true, "color": "#000"}},
       {"data": {"name": "samples"}, "transform": [{"filter": "datum.panel === 'R9'"}], "mark": {"type": "point", "shape": "square", "size": 20, "filled": true, "color": "#000"}}
     ]},
    {"title": "R10", "width": 352, "height": 236,
     "encoding": {"x": {"field": "x", "type": "quantitative", "scale": {"domain": [0, 33], "nice": false, "zero": false}, "axis": null},
                  "y": {"field": "y", "type": "quantitative", "scale": {"domain": [0, 22], "nice": false, "zero": false}, "axis": null}},
     "layer": [
       {"data": {"name": "contours"}, "transform": [{"filter": {"field": "line", "oneOf": ["A", "B", "C", "D", "E"]}}], "mark": {"type": "line", "interpolate": "cardinal", "strokeWidth": 1.1}, "encoding": {"detail": {"field": "line"}, "order": {"field": "seq", "type": "quantitative"}}},
       {"data": {"name": "contours"}, "transform": [{"filter": {"field": "line", "oneOf": ["L1", "R1"]}}], "mark": {"type": "line", "interpolate": "cardinal-closed", "strokeWidth": 1.1}, "encoding": {"detail": {"field": "line"}, "order": {"field": "seq", "type": "quantitative"}}},
       {"data": {"name": "contours"}, "transform": [{"filter": {"field": "line", "oneOf": ["L2", "R2"]}}], "mark": {"type": "line", "interpolate": "cardinal-closed", "strokeWidth": 5}, "encoding": {"detail": {"field": "line"}, "order": {"field": "seq", "type": "quantitative"}}},
       {"data": {"name": "minima"}, "mark": {"type": "point", "shape": "circle", "size": 140, "filled": false, "color": "#000", "strokeWidth": 1.3}},
       {"data": {"name": "minima"}, "mark": {"type": "point", "shape": "square", "size": 13, "filled": true, "color": "#000"}},
       {"data": {"name": "samples"}, "transform": [{"filter": "datum.panel === 'R10'"}], "mark": {"type": "point", "shape": "square", "size": 20, "filled": true, "color": "#000"}}
     ]},
    {"title": "R11", "width": 352, "height": 236,
     "encoding": {"x": {"field": "x", "type": "quantitative", "scale": {"domain": [0, 33], "nice": false, "zero": false}, "axis": null},
                  "y": {"field": "y", "type": "quantitative", "scale": {"domain": [0, 22], "nice": false, "zero": false}, "axis": null}},
     "layer": [
       {"data": {"name": "contours"}, "transform": [{"filter": {"field": "line", "oneOf": ["A", "B", "C", "D", "E"]}}], "mark": {"type": "line", "interpolate": "cardinal", "strokeWidth": 1.1}, "encoding": {"detail": {"field": "line"}, "order": {"field": "seq", "type": "quantitative"}}},
       {"data": {"name": "contours"}, "transform": [{"filter": {"field": "line", "oneOf": ["L1", "R1"]}}], "mark": {"type": "line", "interpolate": "cardinal-closed", "strokeWidth": 1.1}, "encoding": {"detail": {"field": "line"}, "order": {"field": "seq", "type": "quantitative"}}},
       {"data": {"name": "contours"}, "transform": [{"filter": {"field": "line", "oneOf": ["L2", "R2"]}}], "mark": {"type": "line", "interpolate": "cardinal-closed", "strokeWidth": 5}, "encoding": {"detail": {"field": "line"}, "order": {"field": "seq", "type": "quantitative"}}},
       {"data": {"name": "minima"}, "mark": {"type": "point", "shape": "circle", "size": 140, "filled": false, "color": "#000", "strokeWidth": 1.3}},
       {"data": {"name": "minima"}, "mark": {"type": "point", "shape": "square", "size": 13, "filled": true, "color": "#000"}},
       {"data": {"name": "samples"}, "transform": [{"filter": "datum.panel === 'R11'"}], "mark": {"type": "point", "shape": "square", "size": 20, "filled": true, "color": "#000"}}
     ]}
  ]
}
